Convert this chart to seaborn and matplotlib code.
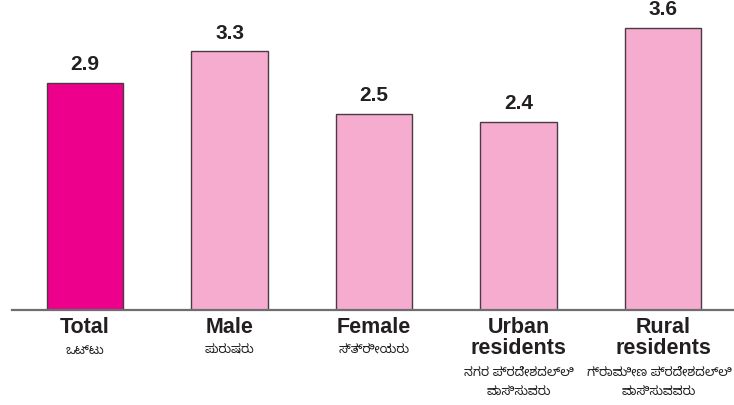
import matplotlib
matplotlib.use("Agg")
import matplotlib.pyplot as plt
import seaborn as sns

categories = ["Total", "Male", "Female", "Urban residents", "Rural residents"]
values = [2.9, 3.3, 2.5, 2.4, 3.6]
english_labels = ["Total", "Male", "Female", "Urban\nresidents", "Rural\nresidents"]
kannada_labels = ["ಒಟ್ಟು", "ಪುರುಷರು", "ಸ್ತ್ರೀಯರು",
                  "ನಗರ ಪ್ರದೇಶದಲ್ಲಿ\nವಾಸಿಸುವರು", "ಗ್ರಾಮೀಣ ಪ್ರದೇಶದಲ್ಲಿ\nವಾಸಿಸುವವರು"]
bar_colors = ["#EC008C", "#F5ACCF", "#F5ACCF", "#F5ACCF", "#F5ACCF"]

sns.set_style("white")
plt.rcParams["font.family"] = ["Liberation Sans", "DejaVu Sans"]

fig = plt.figure(figsize=(7.34, 4.06), dpi=100)
ax = fig.add_axes([12 / 734, 95 / 406, 722 / 734, 311 / 406])

sns.barplot(x=categories, y=values, hue=categories, palette=bar_colors,
            legend=False, width=0.53, edgecolor="#4a3a42", linewidth=1.0,
            saturation=1, ax=ax)

ax.set_xlim(-0.505, 4.49)
ax.set_ylim(0, 3.97)
ax.set_xticks([])
ax.set_yticks([])
ax.set_xlabel("")
ax.set_ylabel("")
for s in ["top", "left", "right"]:
    ax.spines[s].set_visible(False)
ax.spines["bottom"].set_color("#6e6e6e")
ax.spines["bottom"].set_linewidth(1.6)

# value labels above bars
for i, v in enumerate(values):
    ax.annotate(f"{v:.1f}", (i, v), xytext=(0, 7), textcoords="offset points",
                ha="center", va="bottom", fontsize=15, fontweight="bold",
                color="#231f20")

# category labels: english (bold) then kannada
for i, (en, kn) in enumerate(zip(english_labels, kannada_labels)):
    ax.annotate(en, (i, 0), xycoords=("data", "axes fraction"),
                xytext=(0, -4.5), textcoords="offset points",
                ha="center", va="top", fontsize=15.5, fontweight="bold",
                color="#231f20", linespacing=1.0)
    n = en.count("\n") + 1
    dx = -3 if i == len(categories) - 1 else 0  # keep last label inside
    ax.annotate(kn, (i, 0), xycoords=("data", "axes fraction"),
                xytext=(dx, -4.5 - 16 * n - 3), textcoords="offset points",
                ha="center", va="top", fontsize=9, color="#231f20",
                family=["Noto Sans Kannada", "DejaVu Sans"], linespacing=1.6)

fig.savefig("out.png", dpi=100)
